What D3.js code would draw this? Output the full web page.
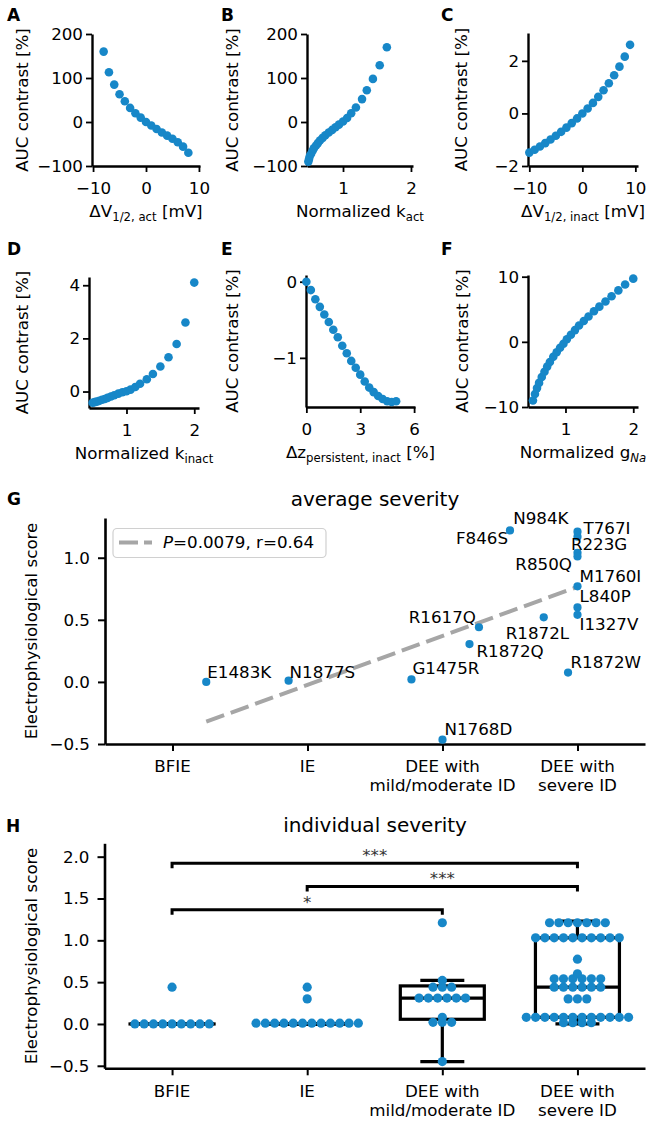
<!DOCTYPE html>
<html><head><meta charset="utf-8">
<script src="https://cdn.jsdelivr.net/npm/d3@7"></script>
<style>body{margin:0;background:#fff} svg{display:block} text{font-family:"DejaVu Sans",sans-serif}</style>
</head><body><svg id="c" width="650" height="1121"></svg>
<script>
// ---------------- DATA ----------------
// Panel A: dV1/2,act [mV] vs AUC contrast [%]
const aX = [-8,-7,-6,-5,-4,-3,-2,-1,0,1,2,3,4,5,6,7,8];
const aY = [160,113,85,63,47,32,20,10,0,-8,-16,-24,-31,-38,-46,-56,-70];
// Panel B: normalized k_act
const bX = [0.49,0.50,0.51,0.53,0.55,0.57,0.60,0.63,0.66,0.70,0.74,0.79,0.84,0.89,0.94,1.00,1.06,1.12,1.19,1.28,1.35,1.44,1.54,1.645];
const bY = [-90,-84,-78,-72,-66,-60,-54,-48,-42,-36,-30,-24,-18,-12,-6,1,9,20,33,52,72,98,129,170];
// Panel C: dV1/2,inact [mV]
const cX = [-10,-9,-8,-7,-6,-5,-4,-3,-2,-1,0,1,2,3,4,5,6,7,8,9];
const cY = [-1.49,-1.38,-1.26,-1.13,-0.99,-0.85,-0.70,-0.54,-0.37,-0.19,0,0.19,0.40,0.63,0.88,1.15,1.45,1.78,2.16,2.61];
// Panel D: normalized k_inact
const dX = [0.50,0.53,0.56,0.60,0.64,0.68,0.72,0.77,0.82,0.88,0.94,1.00,1.06,1.13,1.20,1.30,1.39,1.50,1.62,1.74,1.87,2.00];
const dY = [-0.42,-0.40,-0.38,-0.35,-0.31,-0.28,-0.24,-0.19,-0.14,-0.08,-0.03,0.01,0.07,0.17,0.29,0.46,0.66,0.94,1.29,1.79,2.60,4.10];
// Panel E: dz persistent,inact [%]
const eX = [0,0.25,0.5,0.75,1.0,1.25,1.5,1.75,2.0,2.25,2.5,2.75,3.0,3.25,3.5,3.75,4.0,4.25,4.5,4.75,5.0];
const eY = [0,-0.11,-0.23,-0.33,-0.43,-0.53,-0.63,-0.73,-0.84,-0.94,-1.04,-1.13,-1.22,-1.31,-1.39,-1.45,-1.50,-1.54,-1.57,-1.58,-1.57];
// Panel F: normalized g_Na
const fX = [0.52,0.55,0.58,0.61,0.65,0.69,0.73,0.77,0.82,0.87,0.92,0.97,1.02,1.08,1.14,1.20,1.27,1.34,1.42,1.50,1.59,1.68,1.78,1.88,2.00];
const fY = [-9.0,-8.0,-7.1,-6.3,-5.4,-4.6,-3.8,-3.1,-2.3,-1.6,-0.9,-0.3,0.4,1.1,1.8,2.5,3.2,3.9,4.7,5.4,6.2,7.0,7.9,8.8,9.7];

// Panel G: average severity vs electrophysiological score
const categories = ["BFIE","IE","DEE with\nmild/moderate ID","DEE with\nsevere ID"];
const gNames = ["E1483K","N1877S","G1475R","N1768D","R1872Q","R1617Q","F846S","N984K","R1872L","R1872W","T767I","R223G","R850Q","M1760I","L840P","I1327V"];
const gSeverity = [0.25,0.86,1.77,2.0,2.2,2.27,2.5,3.0,2.75,2.93,3.0,3.0,3.0,3.0,3.0,3.0];
const gScore = [0.0,0.01,0.02,-0.465,0.305,0.44,1.22,1.17,0.52,0.075,1.21,1.04,1.01,0.77,0.60,0.54];
const fitX = [0.25,3.0];
const fitY = [-0.32,0.765];
const legendP = "0.0079", legendR = "0.64";

// Panel H: individual severity
const hBFIE = [0,0,0,0,0,0,0,0,0,0.44];
const hIE = [0.01,0.01,0.01,0.01,0.01,0.01,0.01,0.01,0.01,0.01,0.01,0.01,0.30,0.44];
const hMild = [-0.45,0.02,0.02,0.02,0.08,0.31,0.31,0.31,0.31,0.31,0.31,0.44,0.44,0.44,0.52,1.21];
const hSevere = [0.015,0.015,0.015,0.015,
  0.08,0.08,0.08,0.08,0.08,0.08,0.08,0.08,0.08,0.08,0.08,0.08,
  0.30,0.30,0.30,0.44,0.44,0.44,0.44,0.44,0.44,0.54,0.54,0.54,0.54,0.54,0.54,0.60,0.775,
  1.03,1.03,1.03,1.03,1.03,1.03,1.03,1.03,1.03,1.03,
  1.21,1.21,1.21,1.21,1.21,1.21,1.21];
const boxQ1 = [0,0,0.056,0.08];
const boxMed = [0,0,0.31,0.44];
const boxQ3 = [0,0,0.455,1.03];
const whiskLo = [0,0,-0.45,0.0];
const whiskHi = [0,0,0.52,1.23];
const sigFrom = [0,1,0];
const sigTo = [3,3,2];
const sigY = [1.92,1.645,1.365];
const sigText = ["***","***","*"];

// ---------------- DRAWING ----------------
const svg = d3.select("#c");
const FS = 16.7;
const BLUE = "#1787c8";

function styleAxis(a, dw, tw){
  a.attr("font-size",null).attr("font-family",null);
  a.select(".domain").attr("stroke","#000").attr("stroke-width",dw);
  a.selectAll(".tick line").attr("stroke","#000").attr("stroke-width",tw);
  a.selectAll(".tick text").attr("font-size",FS).attr("fill","#000").attr("font-family","DejaVu Sans");
}

function richText(g, x, y, parts){
  const t = g.append("text").attr("x",x).attr("y",y).attr("text-anchor","middle").attr("font-size",FS).attr("fill","#000");
  let shifted = false;
  parts.forEach(p=>{
    const s = t.append("tspan").text(p.t);
    if(p.sub){ s.attr("font-size",FS*0.7); if(!shifted){s.attr("dy",4); shifted=true;} }
    else if(shifted){ s.attr("dy",-4); shifted=false; }
    if(p.it) s.attr("font-style","italic");
  });
  return t;
}

function panelLetter(l,x,y){
  svg.append("text").attr("x",x).attr("y",y).text(l)
    .attr("font-family","'Liberation Sans',Arial,sans-serif").attr("font-weight","bold").attr("font-size",17);
}

function small(cfg){
  const x = d3.scaleLinear().domain(cfg.xd).range([cfg.x0,cfg.x1]);
  const y = d3.scaleLinear().domain(cfg.yd).range([cfg.yb,cfg.yt]);
  const g = svg.append("g");
  const ax = g.append("g").attr("transform",`translate(0,${cfg.yb})`)
    .call(d3.axisBottom(x).tickValues(cfg.xt).tickSize(6).tickSizeOuter(0).tickPadding(10).tickFormat(d3.format("~g")));
  styleAxis(ax,2.4,1.8);
  const ay = g.append("g").attr("transform",`translate(${cfg.x0},0)`)
    .call(d3.axisLeft(y).tickValues(cfg.yt2).tickSize(6).tickSizeOuter(0).tickPadding(3).tickFormat(d3.format("~g")));
  styleAxis(ay,2.4,1.8);
  g.selectAll("circle.pt").data(cfg.xs).join("circle").attr("class","pt")
    .attr("cx",(d)=>x(d)).attr("cy",(d,i)=>y(cfg.ys[i])).attr("r",4.3).attr("fill",BLUE);
  richText(g,(cfg.x0+cfg.x1)/2,cfg.yb+51,cfg.xl);
  g.append("text").attr("transform",`translate(${cfg.ylx},${(cfg.yb+cfg.yt)/2}) rotate(-90)`)
    .attr("text-anchor","middle").attr("font-size",FS).text("AUC contrast [%]");
  panelLetter(cfg.letter,cfg.lx,cfg.ly);
}

small({letter:"A",lx:7,ly:21,x0:92,x1:200,yb:166,yt:34,xd:[-10.2,10.2],yd:[-100,200],xt:[-10,0,10],yt2:[-100,0,100,200],xs:aX,ys:aY,ylx:28,
  xl:[{t:"ΔV"},{t:"1/2, act",sub:true},{t:" [mV]"}]});
small({letter:"B",lx:221,ly:21,x0:307,x1:413,yb:166,yt:34,xd:[0.47,2.03],yd:[-100,200],xt:[1,2],yt2:[-100,0,100,200],xs:bX,ys:bY,ylx:238,
  xl:[{t:"Normalized k"},{t:"act",sub:true}]});
small({letter:"C",lx:441,ly:21,x0:528,x1:638,yb:166,yt:33,xd:[-10.25,10.5],yd:[-2,3.06],xt:[-10,0,10],yt2:[-2,0,2],xs:cX,ys:cY,ylx:467,
  xl:[{t:"ΔV"},{t:"1/2, inact",sub:true},{t:" [mV]"}]});
small({letter:"D",lx:7,ly:255,x0:89,x1:199,yb:408,yt:277,xd:[0.447,2.07],yd:[-0.62,4.31],xt:[1,2],yt2:[0,2,4],xs:dX,ys:dY,ylx:28,
  xl:[{t:"Normalized k"},{t:"inact",sub:true}]});
small({letter:"E",lx:221,ly:255,x0:306,x1:415,yb:407,yt:275,xd:[-0.02,6.05],yd:[-1.645,0.088],xt:[0,3,6],yt2:[-1,0],xs:eX,ys:eY,ylx:238,
  xl:[{t:"Δz"},{t:"persistent, inact",sub:true},{t:" [%]"}]});
small({letter:"F",lx:441,ly:255,x0:528,x1:638,yb:407,yt:275,xd:[0.447,2.07],yd:[-10,10.26],xt:[1,2],yt2:[-10,0,10],xs:fX,ys:fY,ylx:468,
  xl:[{t:"Normalized g"},{t:"Na",sub:true,it:true}]});

// ---- Panel G ----
(function(){
  const x = d3.scaleLinear().domain([-0.5,3.5]).range([105,645]);
  const y = d3.scaleLinear().domain([-0.5,1.32]).range([744,518]);
  const g = svg.append("g");
  const ax = g.append("g").attr("transform","translate(0,744)")
    .call(d3.axisBottom(x).tickValues([0,1,2,3]).tickSize(7).tickSizeOuter(0).tickFormat(""));
  styleAxis(ax,2.6,2);
  categories.forEach((c,i)=>{
    c.split("\n").forEach((line,k)=>{
      g.append("text").attr("x",x(i)).attr("y",772+k*19).attr("text-anchor","middle").attr("font-size",FS).text(line);
    });
  });
  const ay = g.append("g").attr("transform","translate(105,0)")
    .call(d3.axisLeft(y).tickValues([-0.5,0,0.5,1.0]).tickSize(7).tickSizeOuter(0).tickPadding(8).tickFormat(d3.format(".1f")));
  styleAxis(ay,2.6,2);
  g.append("text").attr("transform","translate(37,631) rotate(-90)").attr("text-anchor","middle").attr("font-size",FS).text("Electrophysiological score");
  g.append("text").attr("x",375).attr("y",506).attr("text-anchor","middle").attr("font-size",20).text("average severity");
  // fit line
  g.append("line").attr("x1",x(fitX[0])).attr("y1",y(fitY[0])).attr("x2",x(fitX[1])).attr("y2",y(fitY[1]))
    .attr("stroke","#a6a6a6").attr("stroke-width",4).attr("stroke-dasharray","19,7");
  // points
  g.selectAll("circle.gp").data(gSeverity).join("circle").attr("class","gp")
    .attr("cx",d=>x(d)).attr("cy",(d,i)=>y(gScore[i])).attr("r",4.1).attr("fill",BLUE);
  const lab = {E1483K:[1,-4,"start"],N1877S:[1,-3,"start"],G1475R:[1,-5,"start"],N1768D:[2,-5,"start"],
    R1872Q:[7,13,"start"],R1617Q:[-3,-4,"end"],F846S:[-2,14,"end"],N984K:[-9,-13,"end"],T767I:[6,2.5,"start"],
    R223G:[-6.6,-3,"start"],R850Q:[-5.6,13.5,"end"],M1760I:[2,-4,"start"],L840P:[2,-5,"start"],I1327V:[2,15,"start"],
    R1872L:[-38,21.4,"start"],R1872W:[2.4,-5,"start"]};
  gNames.forEach((n,i)=>{
    const o = lab[n];
    g.append("text").attr("x",x(gSeverity[i])+o[0]).attr("y",y(gScore[i])+o[1]).attr("text-anchor",o[2])
      .attr("font-size",FS).text(n);
  });
  // legend
  g.append("rect").attr("x",113).attr("y",528.5).attr("width",213).attr("height",29).attr("rx",4)
    .attr("fill","#fff").attr("fill-opacity",0.8).attr("stroke","#d0d0d0").attr("stroke-width",1.2);
  g.append("line").attr("x1",119).attr("x2",152).attr("y1",542.5).attr("y2",542.5)
    .attr("stroke","#a6a6a6").attr("stroke-width",4).attr("stroke-dasharray","19,6");
  const lt = g.append("text").attr("x",163).attr("y",548).attr("font-size",FS);
  lt.append("tspan").attr("font-style","italic").text("P");
  lt.append("tspan").text("=" + legendP + ", r=" + legendR);
  panelLetter("G",7,505);
})();

// ---- Panel H ----
(function(){
  const x = d3.scaleLinear().domain([-0.5,3.5]).range([104.5,645]);
  const y = d3.scaleLinear().domain([-0.53,2.16]).range([1068.3,843.3]);
  const g = svg.append("g");
  const ax = g.append("g").attr("transform","translate(0,1068.3)")
    .call(d3.axisBottom(x).tickValues([0,1,2,3]).tickSize(7).tickSizeOuter(0).tickFormat(""));
  styleAxis(ax,2.6,2);
  categories.forEach((c,i)=>{
    c.split("\n").forEach((line,k)=>{
      g.append("text").attr("x",x(i)).attr("y",1097+k*19).attr("text-anchor","middle").attr("font-size",FS).text(line);
    });
  });
  const ay = g.append("g").attr("transform","translate(104.5,0)")
    .call(d3.axisLeft(y).tickValues([-0.5,0,0.5,1.0,1.5,2.0]).tickSize(7).tickSizeOuter(0).tickPadding(8).tickFormat(d3.format(".1f")));
  styleAxis(ay,2.6,2);
  g.append("text").attr("transform","translate(37,956) rotate(-90)").attr("text-anchor","middle").attr("font-size",FS).text("Electrophysiological score");
  g.append("text").attr("x",375).attr("y",832).attr("text-anchor","middle").attr("font-size",20).text("individual severity");

  // boxes
  const bw = 42, cw = 22;
  boxQ1.forEach((q1,i)=>{
    const cx = x(i);
    const s = {stroke:"#000","stroke-width":3.2,fill:"none"};
    const ln = (x1,y1,x2,y2)=>{ const l=g.append("line").attr("x1",x1).attr("y1",y1).attr("x2",x2).attr("y2",y2); for(const k in s) l.attr(k,s[k]); };
    g.append("rect").attr("x",cx-bw).attr("y",y(boxQ3[i])).attr("width",2*bw).attr("height",Math.max(0.01,y(q1)-y(boxQ3[i])))
      .attr("fill","none").attr("stroke","#000").attr("stroke-width",3.2);
    ln(cx-bw,y(boxMed[i]),cx+bw,y(boxMed[i]));
    ln(cx,y(q1),cx,y(whiskLo[i]));
    ln(cx,y(boxQ3[i]),cx,y(whiskHi[i]));
    ln(cx-cw,y(whiskLo[i]),cx+cw,y(whiskLo[i]));
    ln(cx-cw,y(whiskHi[i]),cx+cw,y(whiskHi[i]));
  });

  // dots: rows of equal values spread evenly around category center
  const groups = [hBFIE,hIE,hMild,hSevere];
  const sp = 9.3;
  groups.forEach((vals,gi)=>{
    const byV = d3.group(vals.map((v,i)=>({v,i})), d=>d.v);
    const pts = [];
    for (const [v,arr] of byV) arr.forEach((d,k)=>pts.push({v, off:(k-(arr.length-1)/2)}));
    g.selectAll(null).data(pts).join("circle")
      .attr("cx",d=>x(gi)+d.off*sp).attr("cy",d=>y(d.v)).attr("r",4.6).attr("fill",BLUE);
  });

  // significance brackets
  sigY.forEach((sy,i)=>{
    const x1 = x(sigFrom[i]), x2 = x(sigTo[i]), yy = y(sy);
    g.append("path").attr("d",`M${x1},${yy+5}V${yy}H${x2}V${yy+5}`).attr("fill","none").attr("stroke","#000").attr("stroke-width",3);
    g.append("text").attr("x",(x1+x2)/2).attr("y",yy-2).attr("text-anchor","middle").attr("font-size",FS).attr("fill","#333").text(sigText[i]);
  });
  panelLetter("H",6,832);
})();
</script>
</body></html>
